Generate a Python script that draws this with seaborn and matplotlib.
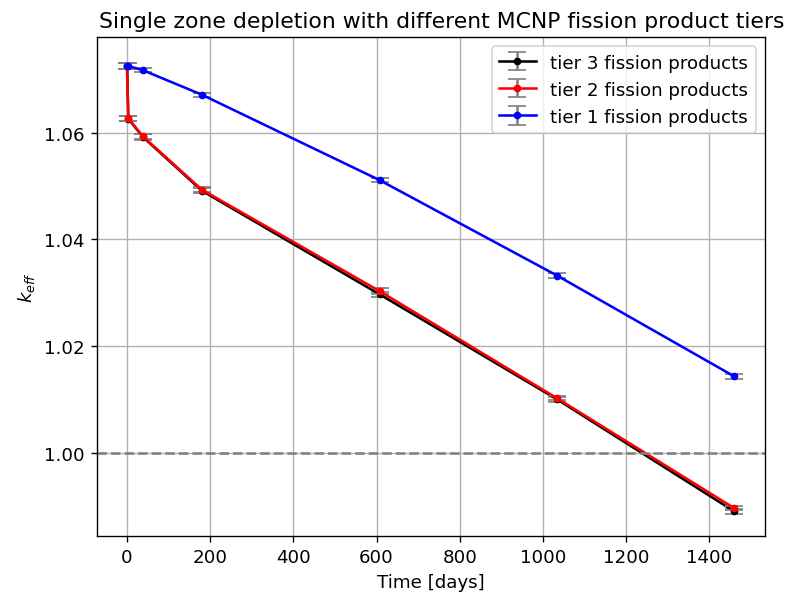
import matplotlib
matplotlib.use("Agg")
import matplotlib.pyplot as plt
import pandas as pd
import seaborn as sns

# burnup steps [days]
time_days = [0, 3, 38, 180, 607, 1034, 1460]

keff_tier3 = [1.0725, 1.0626, 1.0592, 1.0491, 1.0297, 1.0100, 0.9890]
keff_tier2 = [1.0725, 1.0627, 1.0593, 1.0493, 1.0303, 1.0102, 0.9896]
keff_tier1 = [1.0725, 1.0725, 1.0717, 1.0671, 1.0511, 1.0332, 1.0143]

err_tier3 = [0.0005, 0.0005, 0.0005, 0.0005, 0.0005, 0.0004, 0.0004]
err_tier2 = [0.0005, 0.0005, 0.0005, 0.0005, 0.0005, 0.0004, 0.0004]
err_tier1 = [0.0005, 0.0005, 0.0004, 0.0004, 0.0004, 0.0004, 0.0004]

labels = ["tier 3 fission products", "tier 2 fission products", "tier 1 fission products"]
colors = ["black", "red", "blue"]

rows = []
for lab, ys, es in zip(labels, [keff_tier3, keff_tier2, keff_tier1],
                       [err_tier3, err_tier2, err_tier1]):
    for t, k, e in zip(time_days, ys, es):
        rows.append({"Time": t, "keff": k, "err": e, "tier": lab})
df = pd.DataFrame(rows)

plt.rcParams.update({"font.size": 10.7, "axes.titlesize": 12.8})

fig, ax = plt.subplots(figsize=(6.4, 4.845), dpi=122.8)
fig.subplots_adjust(left=0.123, right=0.973, top=0.936, bottom=0.0975)

handles = []
for lab, col in zip(labels, colors):
    d = df[df["tier"] == lab]
    cont = ax.errorbar(d["Time"], d["keff"], yerr=d["err"], fmt="none",
                       ecolor="gray", capsize=5, elinewidth=1.5)
    sns.lineplot(data=d, x="Time", y="keff", color=col, marker="o",
                 markersize=4.5, markeredgewidth=0, linewidth=1.5,
                 estimator=None, legend=False, ax=ax)
    handles.append((cont, ax.lines[-1]))

ax.axhline(1.0, color="gray", linestyle="--", linewidth=1.5)

ax.set_xlim(-73, 1533)
ax.set_ylim(0.9844, 1.0779)
ax.set_yticks([1.00, 1.02, 1.04, 1.06])
ax.grid(True)
ax.set_xlabel("Time [days]")
ax.set_ylabel("$k_{eff}$")
ax.set_title("Single zone depletion with different MCNP fission product tiers", x=0.516)
ax.legend(handles, labels, loc="upper right")

fig.savefig("out.png", dpi=122.8)
